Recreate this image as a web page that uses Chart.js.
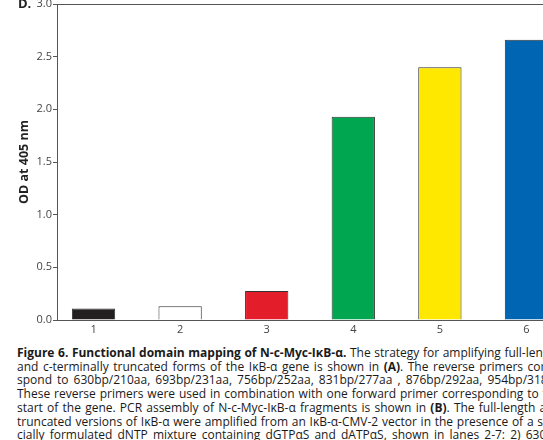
<!DOCTYPE html>
<html>
<head>
<meta charset="utf-8">
<script src="https://cdn.jsdelivr.net/npm/chart.js@4"></script>
<style>
  html, body { margin: 0; padding: 0; background: #fff; }
  body { width: 543px; height: 440px; overflow: hidden; position: relative; font-family: "Open Sans", sans-serif; }
  #wrap { position: absolute; left: 0; top: -8px; width: 590px; height: 346px; }
  #panel { position: absolute; left: 18px; top: -6px; font: bold 13px "Open Sans", sans-serif; color: #222; }
  #caption { position: absolute; left: 17px; top: 346px; font-size: 12px; line-height: 13.7px; color: #1a1a1a; }
  #caption div { width: 544px; white-space: nowrap; text-align: justify; text-align-last: justify; }
  #caption b { font-weight: bold; }
</style>
</head>
<body>
<div id="wrap"><canvas id="odChart"></canvas></div>
<div id="panel">D.</div>
<div id="caption">
  <div><b>Figure 6. Functional domain mapping of N-c-Myc-IκB-α.</b> The strategy for amplifying full-length</div>
  <div>and c-terminally truncated forms of the IκB-α gene is shown in <b>(A)</b>. The reverse primers corre-</div>
  <div>spond to 630bp/210aa, 693bp/231aa, 756bp/252aa, 831bp/277aa , 876bp/292aa, 954bp/318aa</div>
  <div>These reverse primers were used in combination with one forward primer corresponding to the</div>
  <div>start of the gene. PCR assembly of N-c-Myc-IκB-α fragments is shown in <b>(B)</b>. The full-length and</div>
  <div>truncated versions of IκB-α were amplified from an IκB-α-CMV-2 vector in the presence of a spe-</div>
  <div>cially formulated dNTP mixture containing dGTPαS and dATPαS, shown in lanes 2-7: 2) 630bp</div>
</div>
<script>
document.addEventListener("DOMContentLoaded", () => {
  // lanes and OD readings
  const lanes = [1, 2, 3, 4, 5, 6];
  const odValues = [0.11, 0.13, 0.275, 1.93, 2.40, 2.66];
  const barColors = ["#231f20", "#ffffff", "#e31e2a", "#00a650", "#ffe800", "#0066b3"];
  const yTicks = [0, 0.5, 1.0, 1.5, 2.0, 2.5, 3.0];

  const axisGray = "#555555";

  const data = {
    datasets: [
      {
        label: "OD at 405 nm",
        data: lanes.map((l, i) => ({ x: l, y: odValues[i] })),
        backgroundColor: barColors,
        borderColor: "#333333",
        borderWidth: 1,
        barPercentage: 0.5,
        categoryPercentage: 1,
      },
    ],
  };

  const config = {
    type: "bar",
    data: data,
    options: {
      responsive: true,
      maintainAspectRatio: false,
      animation: false,
      layout: { padding: { top: 12, right: 27, bottom: 0, left: 0 } },
      plugins: {
        legend: { display: false },
        tooltip: { enabled: false },
      },
      scales: {
        x: {
          type: "linear",
          offset: false,
          min: 0.578,
          max: 6.422,
          afterBuildTicks: (s) => { s.ticks = lanes.map((v) => ({ value: v })); },
          grid: { display: false, drawTicks: false },
          border: { display: true, color: axisGray, width: 1 },
          ticks: {
            autoSkip: false,
            maxRotation: 0,
            padding: 3,
            color: "#444",
            font: { family: "Open Sans", size: 11 },
            callback: (v) => String(v),
          },
          afterFit: (s) => { s.height = 18; },
        },
        x2: {
          type: "linear",
          position: "top",
          offset: false,
          min: 0.578,
          max: 6.422,
          grid: { display: false, drawTicks: false },
          border: { display: true, color: axisGray, width: 1 },
          ticks: { display: false },
          afterFit: (s) => { s.height = 0; },
        },
        y: {
          min: 0,
          max: 3,
          afterBuildTicks: (s) => { s.ticks = yTicks.map((v) => ({ value: v })); },
          grid: { drawOnChartArea: false, drawTicks: true, tickLength: 4, color: axisGray },
          border: { display: true, color: axisGray, width: 1 },
          ticks: {
            padding: 1,
            color: "#444",
            font: { family: "Open Sans", size: 11 },
            callback: (v) => v.toFixed(1),
          },
          title: {
            display: true,
            text: "OD at 405 nm",
            color: "#222",
            font: { family: "Open Sans", size: 12.5, weight: "bold" },
            padding: { top: 17, bottom: 0 },
          },
          afterFit: (s) => { s.width = 57; },
        },
      },
    },
  };

  const ctx = document.getElementById("odChart").getContext("2d");
  new Chart(ctx, config);
});
</script>
</body>
</html>
